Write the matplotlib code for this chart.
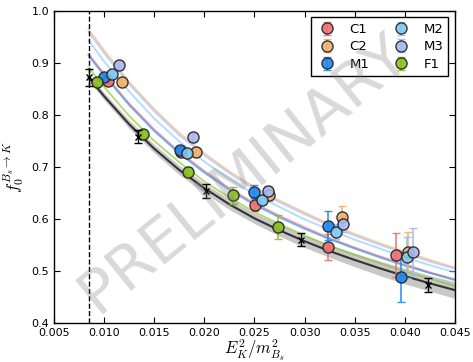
#!/usr/bin/env python3

import numpy as np
import matplotlib
matplotlib.use("Agg")
import matplotlib.pyplot as plt

# zero-recoil point, m_K^2 / m_Bs^2
x_zero = 0.00846

# ensemble data: E_K^2/m_Bs^2, f0, error
c1_x = [0.01036, 0.0177, 0.02508, 0.03236, 0.03909]
c1_y = [0.865, 0.728, 0.627, 0.5456, 0.531]
c1_e = [0.006, 0.008, 0.012, 0.025, 0.042]

c2_x = [0.01178, 0.01916, 0.02648, 0.0337, 0.04034]
c2_y = [0.863, 0.728, 0.646, 0.603, 0.537]
c2_e = [0.005, 0.008, 0.012, 0.022, 0.037]

m1_x = [0.01002, 0.01757, 0.02498, 0.03236, 0.03958]
m1_y = [0.8725, 0.733, 0.6525, 0.5865, 0.489]
m1_e = [0.006, 0.008, 0.012, 0.028, 0.048]

m2_x = [0.01079, 0.01827, 0.02575, 0.03313, 0.04024]
m2_y = [0.879, 0.726, 0.6365, 0.5756, 0.526]
m2_e = [0.005, 0.007, 0.010, 0.015, 0.040]

m3_x = [0.01145, 0.0189, 0.02632, 0.0338, 0.04084]
m3_y = [0.895, 0.757, 0.654, 0.590, 0.537]
m3_e = [0.008, 0.009, 0.010, 0.015, 0.045]

f1_x = [0.00929, 0.01385, 0.0184, 0.02289, 0.02731]
f1_y = [0.864, 0.763, 0.691, 0.645, 0.585]
f1_e = [0.006, 0.007, 0.008, 0.017, 0.023]

# continuum extrapolation points
cont_x = [0.00846, 0.01338, 0.0202, 0.0296, 0.0423]
cont_y = [0.872, 0.758, 0.654, 0.560, 0.473]
cont_e = [0.016, 0.0125, 0.013, 0.012, 0.013]

# fit curves sampled on a common grid
grid_x = [0.00846, 0.010, 0.0125, 0.015, 0.0175, 0.020, 0.0225, 0.025,
          0.0275, 0.030, 0.0325, 0.035, 0.0375, 0.040, 0.0425, 0.045]
cont_fit = [0.872, 0.836, 0.782, 0.735, 0.694, 0.659, 0.628, 0.601,
            0.578, 0.557, 0.538, 0.521, 0.505, 0.490, 0.476, 0.463]
cont_band = [0.007, 0.007, 0.008, 0.008, 0.009, 0.009, 0.010, 0.010,
             0.011, 0.012, 0.012, 0.013, 0.014, 0.015, 0.015, 0.016]
c1_fit = [0.917, 0.879, 0.822, 0.772, 0.729, 0.692, 0.659, 0.630,
          0.606, 0.584, 0.563, 0.545, 0.528, 0.513, 0.497, 0.484]
c2_fit = [0.964, 0.924, 0.863, 0.811, 0.765, 0.726, 0.691, 0.661,
          0.635, 0.612, 0.590, 0.571, 0.553, 0.537, 0.521, 0.506]
m1_fit = [0.914, 0.876, 0.819, 0.769, 0.726, 0.689, 0.656, 0.627,
          0.603, 0.581, 0.561, 0.543, 0.526, 0.510, 0.496, 0.482]
m2_fit = [0.943, 0.903, 0.845, 0.793, 0.749, 0.710, 0.677, 0.647,
          0.623, 0.599, 0.579, 0.560, 0.543, 0.526, 0.511, 0.497]
m3_fit = [0.959, 0.919, 0.859, 0.807, 0.761, 0.722, 0.688, 0.657,
          0.632, 0.609, 0.587, 0.568, 0.550, 0.534, 0.518, 0.504]
f1_fit = [0.891, 0.854, 0.798, 0.750, 0.709, 0.672, 0.641, 0.613,
          0.590, 0.568, 0.548, 0.531, 0.515, 0.499, 0.485, 0.471]

ensembles = [
    ("C1", c1_x, c1_y, c1_e, c1_fit, "#f07070"),
    ("C2", c2_x, c2_y, c2_e, c2_fit, "#f0b070"),
    ("M1", m1_x, m1_y, m1_e, m1_fit, "#2088f0"),
    ("M2", m2_x, m2_y, m2_e, m2_fit, "#80c8f0"),
    ("M3", m3_x, m3_y, m3_e, m3_fit, "#a8b8f0"),
    ("F1", f1_x, f1_y, f1_e, f1_fit, "#88c020"),
]

plt.rcParams['font.family'] = ['DejaVu Sans']
plt.rcParams['mathtext.fontset'] = 'cm'

fig = plt.figure(figsize=(4.73, 3.62), dpi=100)
ax = fig.add_axes([0.114, 0.108, 0.848, 0.862])

# continuum band and curve
gx = np.array(grid_x)
gy = np.array(cont_fit)
gb = np.array(cont_band)
ax.fill_between(gx, gy - gb, gy + gb, color="#c8c8c8", lw=0, zorder=1)

for name, x, y, e, fit, col in ensembles:
    ax.plot(grid_x, fit, color=col, lw=1.4, alpha=0.6, zorder=2)

ax.plot(grid_x, cont_fit, color="#333333", lw=1.5, zorder=3)

for name, x, y, e, fit, col in ensembles:
    ax.errorbar(x, y, yerr=e, fmt='o', color=col, mfc=col, mec="#222222",
                mew=1.0, ms=8, ecolor=col, elinewidth=1.2, capsize=3,
                alpha=0.9, label=name, zorder=5)

ax.errorbar(cont_x, cont_y, yerr=cont_e, fmt='x', color='k', ms=5, mew=1.0,
            elinewidth=1.0, capsize=3, zorder=6)

ax.axvline(x_zero, color='k', ls='--', lw=1.0, zorder=4)

ax.set_xlim(0.005, 0.045)
ax.set_ylim(0.4, 1.0)
ax.set_xticks(np.arange(0.005, 0.0451, 0.005))
ax.set_yticks(np.arange(0.4, 1.01, 0.1))
ax.tick_params(direction='in', top=True, right=True, length=4, labelsize=8)
ax.xaxis.set_major_formatter(matplotlib.ticker.FormatStrFormatter('%.3f'))
ax.yaxis.set_major_formatter(matplotlib.ticker.FormatStrFormatter('%.1f'))
for s in ax.spines.values():
    s.set_linewidth(1.0)

ax.set_xlabel(r'$E_K^2/m_{B_s}^2$', fontsize=12, labelpad=0)
ax.set_ylabel(r'$f_0^{B_s\to K}$', fontsize=12, labelpad=4)

leg = ax.legend(loc='upper right', ncol=2, numpoints=1, fontsize=9.5,
                frameon=True, fancybox=False, borderaxespad=0.5,
                columnspacing=1.6, handletextpad=0.9, labelspacing=0.35,
                handlelength=1.6, framealpha=1.0)
leg.get_frame().set_edgecolor('k')
leg.get_frame().set_linewidth(1.0)
leg.set_zorder(8)

# translucent watermark drawn over everything
ax.text(0.475, 0.475, 'PRELIMINARY', transform=ax.transAxes, fontsize=44,
        color='#808080', alpha=0.3, rotation=39, ha='center', va='center',
        zorder=10, clip_on=False)

fig.savefig('out.png', dpi=100)
